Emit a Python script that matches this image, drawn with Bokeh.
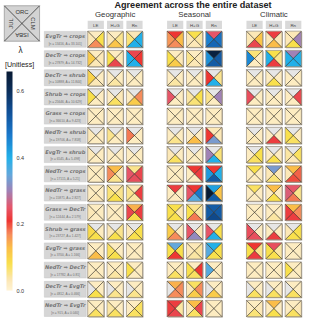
import numpy as np
from bokeh.plotting import figure
from bokeh.models import (Range1d, LinearColorMapper, ColorBar, FixedTicker,
                          PrintfTickFormatter, ColumnDataSource)
from bokeh.core.properties import value
from bokeh.embed import file_html
from bokeh.resources import INLINE

nan = np.nan

# ---------------- data ----------------
transitions = ["EvgTr \u21d2 crops", "DecTr \u21d2 crops", "DecTr \u21d2 shrub", "Shrub \u21d2 crops",
               "Grass \u21d2 crops", "NedTr \u21d2 shrub", "EvgTr \u21d2 shrub", "NedTr \u21d2 crops",
               "NedTr \u21d2 grass", "Grass \u21d2 DecTr", "Shrub \u21d2 grass", "EvgTr \u21d2 grass",
               "NedTr \u21d2 DecTr", "DecTr \u21d2 EvgTr", "NedTr \u21d2 EvgTr"]
n_pixels = [13416, 27879, 10888, 25646, 36610, 19706, 6545, 17115, 15871, 12444, 23727, 3700, 17782, 4812, 915]
areas = ["33.101", "14.732", "11.844", "10.629", "9.423", "7.818", "5.498", "5.21", "2.827",
         "2.579", "1.427", "1.166", "0.81", "0.466", "0.040"]

groups = ["Geographic", "Seasonal", "Climatic"]
variables = ["LE", "H+G", "Rn"]
models = ["ORC", "CLM", "ISBA", "JUL"]   # top, right, bottom, left triangle

# lambda per transition: [ORC, CLM, ISBA, JUL]  (nan = not available)
geo_LE = [[0.02, 0.08, 0.17, 0.03], [0.02, 0.03, 0.03, 0.11], [nan, 0.02, 0.03, 0.10],
          [nan, 0.02, 0.02, 0.08], [0.02, 0.02, 0.02, 0.02], [nan, 0.02, 0.02, 0.03],
          [nan, 0.02, 0.02, 0.03], [0.02, 0.02, 0.02, 0.02], [0.02, 0.02, 0.03, 0.02],
          [0.02, 0.02, 0.02, 0.03], [nan, 0.02, 0.08, 0.09], [0.02, 0.02, 0.13, 0.02],
          [0.02, 0.02, 0.03, 0.02], [0.02, 0.02, 0.08, nan], [0.02, 0.02, 0.07, 0.02]]
geo_HG = [[0.02, 0.05, 0.12, 0.03], [0.02, 0.03, 0.23, 0.08], [nan, 0.02, 0.04, 0.02],
          [nan, 0.03, 0.07, 0.02], [0.02, 0.02, 0.02, 0.02], [nan, 0.02, 0.02, 0.05],
          [nan, 0.02, 0.02, 0.02], [0.13, 0.03, 0.05, 0.17], [0.03, 0.05, 0.08, 0.06],
          [0.02, 0.02, 0.02, 0.02], [nan, 0.05, 0.08, 0.03], [0.02, 0.02, 0.08, 0.07],
          [0.02, 0.02, 0.04, 0.02], [0.02, 0.02, 0.05, nan], [0.02, 0.02, 0.07, 0.04]]
geo_Rn = [[0.03, 0.40, 0.40, 0.06], [0.23, 0.21, 0.40, 0.40], [nan, 0.02, 0.02, 0.02],
          [nan, 0.17, 0.11, 0.02], [0.02, 0.02, 0.02, 0.02], [nan, 0.02, 0.02, 0.18],
          [nan, 0.02, 0.02, 0.02], [0.05, 0.23, 0.24, 0.25], [0.03, 0.22, 0.04, 0.05],
          [0.14, 0.22, 0.09, 0.23], [nan, 0.08, 0.08, 0.03], [0.02, 0.02, 0.02, 0.02],
          [0.02, 0.02, 0.02, 0.08], [0.02, 0.02, 0.05, nan], [0.02, 0.07, 0.07, 0.02]]

sea_LE = [[0.21, 0.13, 0.17, 0.16], [0.02, 0.03, 0.11, 0.08], [nan, 0.02, 0.04, 0.02],
          [nan, 0.02, 0.02, 0.25], [0.02, 0.02, 0.02, 0.02], [nan, 0.02, 0.05, 0.02],
          [nan, 0.02, 0.07, 0.03], [0.02, 0.02, 0.02, 0.02], [0.22, 0.02, 0.02, 0.02],
          [0.08, 0.03, 0.08, 0.08], [nan, 0.02, 0.17, 0.11], [0.35, 0.08, 0.21, 0.08],
          [0.02, 0.03, 0.07, 0.02], [0.14, 0.17, 0.17, nan], [0.22, 0.04, 0.23, 0.22]]
sea_HG = [[0.08, 0.04, 0.03, 0.03], [0.02, 0.03, 0.03, 0.05], [nan, 0.02, 0.02, 0.02],
          [nan, 0.08, 0.06, 0.04], [0.02, 0.02, 0.02, 0.02], [nan, 0.02, 0.13, 0.02],
          [nan, 0.02, 0.02, 0.02], [0.21, 0.22, 0.02, 0.02], [0.21, 0.47, 0.36, 0.25],
          [0.05, 0.04, 0.18, 0.08], [nan, 0.03, 0.31, 0.25], [0.03, 0.04, 0.04, 0.03],
          [0.02, 0.21, 0.07, 0.08], [0.07, 0.17, 0.11, 0.03], [0.13, 0.23, 0.07, 0.03]]
sea_Rn = [[0.25, 0.48, 0.50, 0.46], [0.64, 0.52, 0.52, 0.44], [nan, 0.05, 0.40, 0.21],
          [nan, 0.30, 0.02, 0.05], [0.02, 0.02, 0.02, 0.02], [0.03, 0.03, 0.33, 0.21],
          [nan, 0.06, 0.40, 0.30], [0.21, 0.40, 0.52, 0.43], [0.42, 0.12, 0.52, 0.66],
          [0.52, 0.52, 0.55, 0.52], [nan, 0.08, 0.40, 0.25], [0.40, 0.08, 0.08, 0.36],
          [0.02, 0.02, 0.02, 0.36], [0.02, 0.02, 0.11, nan], [0.02, 0.02, 0.02, 0.02]]

cli_LE = [[0.03, 0.12, 0.23, 0.03], [0.06, 0.02, 0.02, 0.45], [nan, 0.02, 0.02, 0.02],
          [nan, 0.02, 0.02, 0.24], [0.02, 0.02, 0.02, 0.02], [nan, 0.02, 0.03, 0.02],
          [nan, 0.08, 0.07, 0.02], [0.08, 0.02, 0.02, 0.02], [0.07, 0.02, 0.02, 0.02],
          [0.02, 0.02, 0.02, 0.02], [nan, 0.02, 0.24, 0.24], [0.21, 0.05, 0.22, 0.08],
          [0.02, 0.02, 0.02, 0.02], [0.02, 0.02, 0.07, nan], [0.02, 0.03, 0.06, 0.02]]
cli_HG = [[0.22, 0.03, 0.13, 0.03], [0.08, 0.05, 0.22, 0.40], [nan, 0.02, 0.08, 0.02],
          [nan, 0.02, 0.02, 0.02], [0.02, 0.02, 0.02, 0.02], [nan, 0.02, 0.22, 0.02],
          [nan, 0.02, 0.08, 0.02], [0.33, 0.03, 0.06, 0.03], [0.13, 0.02, 0.08, 0.02],
          [0.02, 0.02, 0.04, 0.02], [nan, 0.02, 0.22, 0.02], [0.24, 0.04, 0.08, 0.08],
          [0.02, 0.02, 0.02, 0.02], [0.02, 0.02, 0.07, nan], [0.13, 0.02, 0.08, 0.02]]
cli_Rn = [[0.03, 0.30, 0.08, 0.03], [0.30, 0.40, 0.40, 0.40], [nan, 0.02, 0.02, 0.02],
          [nan, 0.23, 0.02, 0.02], [0.02, 0.02, 0.02, 0.02], [nan, 0.02, 0.07, 0.08],
          [nan, 0.07, 0.03, 0.04], [0.13, 0.19, 0.20, 0.03], [0.25, 0.05, 0.18, 0.26],
          [0.13, 0.17, 0.22, 0.22], [nan, 0.08, 0.08, 0.03], [0.02, 0.02, 0.02, 0.02],
          [0.02, 0.02, 0.02, 0.08], [0.02, 0.02, 0.07, nan], [0.02, 0.03, 0.07, 0.02]]

panels = [[geo_LE, geo_HG, geo_Rn], [sea_LE, sea_HG, sea_Rn], [cli_LE, cli_HG, cli_Rn]]

cbar_ticks = [0.0, 0.2, 0.4, 0.6]
lam_max = 0.66

# ---------------- colour map ----------------
stops = [(0.00, "#FFF3D2"), (0.03, "#FCE7B6"), (0.08, "#F9E04C"), (0.13, "#FBBD48"),
         (0.17, "#F68A5C"), (0.21, "#EE3532"), (0.25, "#E6566A"), (0.30, "#A082B6"),
         (0.35, "#62A8DC"), (0.40, "#22B1EA"), (0.47, "#1A78CB"), (0.54, "#104F96"),
         (0.60, "#0C305C"), (0.66, "#081A34")]
def _rgb(hx_):
    return np.array([int(hx_[i:i + 2], 16) for i in (1, 3, 5)], float)
sv = np.array([s[0] for s in stops])
sc = np.array([_rgb(s[1]) for s in stops])
palette = []
for t in np.linspace(0, lam_max, 256):
    c = [np.interp(t, sv, sc[:, k]) for k in range(3)]
    palette.append("#%02x%02x%02x" % tuple(int(round(v)) for v in c))
mapper = LinearColorMapper(palette=palette, low=0.0, high=lam_max, nan_color="#E6E6E6")

# ---------------- layout (reference pixel units, y down) ----------------
X0, COL_P, GRP_P = 101.0, 20.3, 83.3
Y0, ROW_P = 41.5, 20.07
CELL = 17.0
h = CELL / 2

W, H = 304, 320
p = figure(width=W, height=H, x_range=Range1d(1, 320), y_range=Range1d(335, 1),
           output_backend="svg", toolbar_location=None, min_border=0)
p.axis.visible = False
p.grid.visible = False
p.outline_line_color = None

sx = 304 / 319.0
def fs(px):
    return value("%.1fpx" % (px * sx))

cx_list, cy_list = [], []
txs, tys, tlam = [], [], []
for g in range(3):
    for v in range(3):
        cx = X0 + g * GRP_P + v * COL_P
        vals = panels[g][v]
        for r in range(len(transitions)):
            cy = Y0 + r * ROW_P
            cx_list.append(cx)
            cy_list.append(cy)
            corners = [((cx - h, cy - h), (cx + h, cy - h)),   # top
                       ((cx + h, cy - h), (cx + h, cy + h)),   # right
                       ((cx + h, cy + h), (cx - h, cy + h)),   # bottom
                       ((cx - h, cy + h), (cx - h, cy - h))]   # left
            for m in range(4):
                a, b = corners[m]
                txs.append([a[0], b[0], cx])
                tys.append([a[1], b[1], cy])
                tlam.append(vals[r][m])

cells = ColumnDataSource(dict(x=cx_list, y=cy_list))
# shadow
p.rect(x=[x + 0.9 for x in cx_list], y=[y + 0.9 for y in cy_list], width=CELL, height=CELL,
       fill_color="#A6A195", line_color=None)
tri = ColumnDataSource(dict(xs=txs, ys=tys, lam=np.array(tlam, float)))
p.patches("xs", "ys", source=tri, fill_color={"field": "lam", "transform": mapper},
          line_color=None)
p.rect("x", "y", source=cells, width=CELL, height=CELL, fill_alpha=0,
       line_color="#958B7B", line_width=0.7)
dxs, dys = [], []
for cx, cy in zip(cx_list, cy_list):
    dxs += [[cx - h, cx + h], [cx - h, cx + h]]
    dys += [[cy - h, cy + h], [cy + h, cy - h]]
p.multi_line(dxs, dys, line_color="#2E2A24", line_width=0.7, line_alpha=0.85)

# column headers
hx, htxt = [], []
for g in range(3):
    for v in range(3):
        hx.append(X0 + g * GRP_P + v * COL_P)
        htxt.append(variables[v])
p.rect(x=hx, y=[26.5] * len(hx), width=CELL, height=8.5, fill_color="#D9D9D9", line_color=None)
p.text(x=hx, y=[26.8] * len(hx), text=htxt, text_align="center", text_baseline="middle",
       text_font=value("Liberation Sans"), text_font_size=fs(4.6), text_color="#444444")

# group titles
p.text(x=[X0 + g * GRP_P + COL_P for g in range(3)], y=[16.0] * 3, text=groups,
       text_align="center", text_baseline="middle", text_font=value("Liberation Sans"),
       text_font_size=fs(8.2), text_color="#333333")
p.text(x=[203], y=[5.5], text=["Agreement across the entire dataset"], text_align="center",
       text_baseline="middle", text_font=value("Liberation Sans"), text_font_size=fs(9.6),
       text_font_style="bold", text_color="#222222")

# row labels
ly = [Y0 + r * ROW_P for r in range(len(transitions))]
p.rect(x=[69] * len(ly), y=ly, width=44, height=16.5, fill_color="#D6D6D6", line_color="#C4C4C4",
       line_width=0.5)
p.text(x=[69] * len(ly), y=[y - 3.2 for y in ly], text=transitions, text_align="center",
       text_baseline="middle", text_font=value("DejaVu Sans"), text_font_size=fs(5.3),
       text_font_style="bold italic", text_color="#747474")
p.text(x=[69] * len(ly), y=[y + 4.6 for y in ly],
       text=["[n = %d, A = %s]" % (n, a) for n, a in zip(n_pixels, areas)],
       text_align="center", text_baseline="middle", text_font=value("Liberation Sans"),
       text_font_size=fs(3.4), text_color="#6E6E6E")

# key box
kx, ky, ks = 23.5, 25.0, 37.0
p.rect(x=[kx], y=[ky], width=ks, height=ks, fill_color="#D3D3D3", line_color="#9A9A9A",
       line_width=0.8)
p.multi_line([[kx - ks / 2, kx + ks / 2], [kx - ks / 2, kx + ks / 2]],
             [[ky - ks / 2, ky + ks / 2], [ky + ks / 2, ky - ks / 2]],
             line_color="#333333", line_width=0.8)
off = 12.0
p.text(x=[kx, kx + off, kx, kx - off], y=[ky - off, ky, ky + off, ky], text=models,
       angle=[0, -np.pi / 2, np.pi, np.pi / 2], text_align="center", text_baseline="middle",
       text_font=value("Liberation Sans"), text_font_size=fs(6.2), text_color="#333333")

# colour bar title
p.text(x=[22], y=[53], text=["\u03bb"], text_align="center", text_baseline="middle",
       text_font=value("Liberation Sans"), text_font_size=fs(8.6), text_color="#222222")
p.text(x=[21], y=[68], text=["[Unitless]"], text_align="center", text_baseline="middle",
       text_font=value("Liberation Sans"), text_font_size=fs(7.4), text_color="#222222")

cb = ColorBar(color_mapper=mapper, location=(6, 30), width=6, height=219, padding=0,
              ticker=FixedTicker(ticks=cbar_ticks), formatter=PrintfTickFormatter(format="%.1f"),
              major_label_text_font_size="5.5px", major_label_text_color="#333333",
              major_tick_line_color=None, minor_tick_line_color=None, bar_line_color=None,
              background_fill_alpha=0, border_line_color=None, label_standoff=4)
p.add_layout(cb)

open("out.html", "w").write(file_html(p, INLINE))
